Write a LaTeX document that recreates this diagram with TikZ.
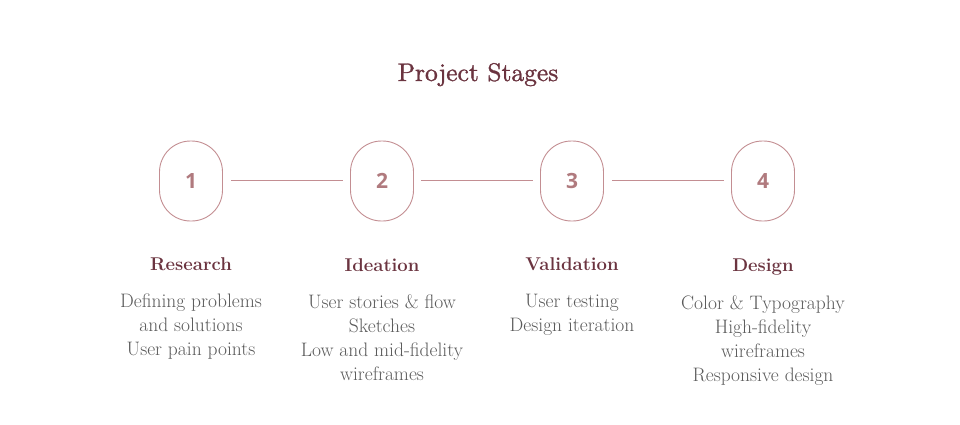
\documentclass[tikz,border=0pt]{standalone}
\usepackage{fontspec}
\newfontfamily\numfont{Open Sans}
\newfontfamily\titlefont{lmroman10-regular.otf}[BoldFont=lmroman10-regular.otf, BoldFeatures={FakeBold=1.2}]
\definecolor{maroon}{HTML}{6B3440}
\definecolor{rosestroke}{HTML}{C38E92}
\definecolor{rosenum}{HTML}{B07A7E}
\definecolor{descgray}{HTML}{5A5A5A}
\begin{document}
\begin{tikzpicture}[x=1pt,y=-1pt,
  capsule/.style={draw=rosestroke, line width=0.9pt, rounded corners=31pt, minimum width=63pt, minimum height=80pt, inner sep=0pt, text=rosenum, font=\numfont\bfseries\fontsize{21}{24}\selectfont},
  link/.style={draw=rosestroke, line width=1pt},
  heading/.style={text=maroon, font=\bfseries\fontsize{18.5}{22}\selectfont, anchor=base},
  desc/.style={text=descgray, font=\fontsize{19.5}{24}\selectfont, align=center, anchor=north, inner sep=0pt}]
\useasboundingbox (0,0) rectangle (960,424);
\node[text=maroon, font=\titlefont\bfseries\fontsize{25.5}{28}\selectfont, anchor=base] (title) at (478,81) {Project Stages};
\node[capsule] (c1) at (191,181) {1};
\node[capsule] (c2) at (382,181) {2};
\node[capsule] (c3) at (572,181) {3};
\node[capsule] (c4) at (763,181) {4};
\coordinate (l1a) at (231,180); \coordinate (l1b) at (343,180);
\coordinate (l2a) at (421,180); \coordinate (l2b) at (533,180);
\coordinate (l3a) at (612,180); \coordinate (l3b) at (724,180);
\draw[link] (l1a) -- (l1b);
\draw[link] (l2a) -- (l2b);
\draw[link] (l3a) -- (l3b);
\node[heading] (h1) at (191,270) {Research};
\node[heading] (h2) at (382,271) {Ideation};
\node[heading] (h3) at (572,270) {Validation};
\node[heading] (h4) at (763,271) {Design};
\node[desc] (d1) at (191,294) {Defining problems\\and solutions\\User pain points};
\node[desc] (d2) at (382,294) {User stories \& flow\\Sketches\\Low and mid-fidelity\\wireframes};
\node[desc] (d3) at (572,294) {User testing\\Design iteration};
\node[desc] (d4) at (763,295) {Color \& Typography\\High-fidelity\\wireframes\\Responsive design};
\end{tikzpicture}
\end{document}
